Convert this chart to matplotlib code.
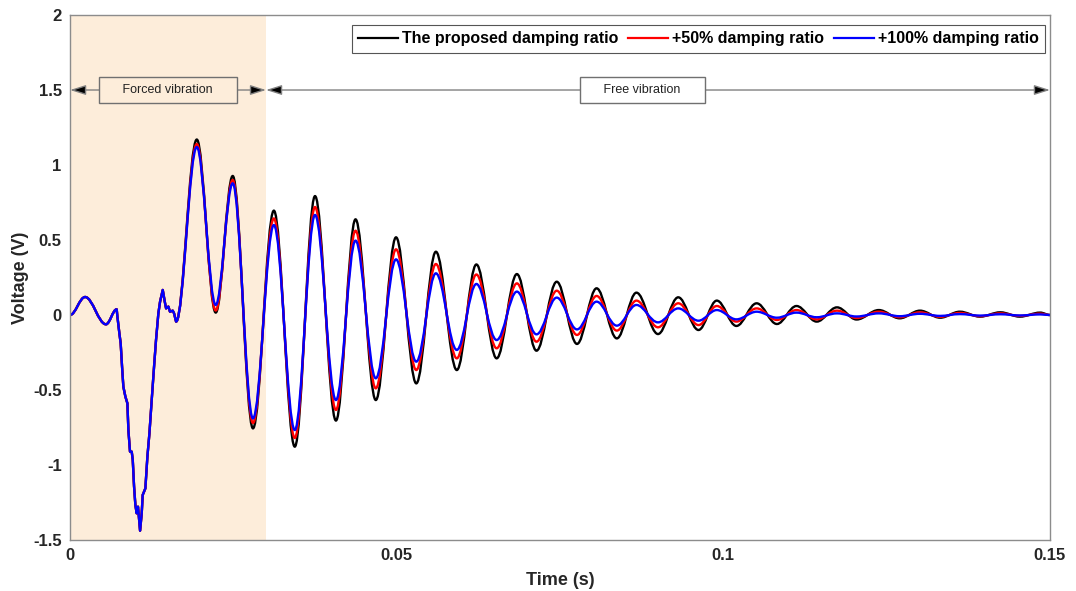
import numpy as np
import matplotlib
matplotlib.use('Agg')
import matplotlib.pyplot as plt
from matplotlib.path import Path
from matplotlib.patches import PathPatch
from matplotlib.lines import Line2D

plt.rcParams['font.family'] = ['Liberation Sans', 'DejaVu Sans']
plt.rcParams['axes.unicode_minus'] = False

# first small swing before the impact (same for all three runs)
start_t = [0.0, 0.0023, 0.0055, 0.00714]
start_v = [0.0, 0.12, -0.062, 0.038]

# impact part, read point by point (noisy, same for all three runs)
hit_t = [0.00725, 0.00755, 0.00775, 0.00796, 0.00816, 0.00847, 0.00878, 0.00893,
         0.00918, 0.00944, 0.0096, 0.0098, 0.0100, 0.0102, 0.0104, 0.01072,
         0.01097, 0.01112, 0.01153, 0.01184, 0.01215, 0.0125, 0.01286, 0.01316,
         0.01352, 0.01378, 0.01419, 0.0145, 0.0147, 0.01505, 0.0153, 0.01572, 0.01592]
hit_v = [-0.011, -0.122, -0.189, -0.344, -0.478, -0.544, -0.589, -0.767,
         -0.911, -0.911, -0.967, -1.144, -1.267, -1.322, -1.278, -1.438,
         -1.322, -1.2, -1.156, -0.944, -0.789, -0.567, -0.344, -0.167,
         0.011, 0.089, 0.167, 0.089, 0.044, 0.056, 0.022, 0.029, 0.011]

# peaks and troughs after the impact (shared times)
ext_t = [0.01623, 0.0194, 0.0223, 0.0249, 0.0280, 0.0312, 0.0344, 0.0375, 0.0407,
         0.0437, 0.0468, 0.0499, 0.0530, 0.0560, 0.0592, 0.0622, 0.0653, 0.0684,
         0.0714, 0.0745, 0.0776, 0.0806, 0.0837, 0.0867, 0.0900, 0.0931, 0.0962,
         0.0990, 0.1020, 0.1051, 0.1082, 0.1112, 0.1143, 0.1174, 0.1204, 0.1238,
         0.1270, 0.1301, 0.1332, 0.1362, 0.1393, 0.1424, 0.1454, 0.1485, 0.15]
black_v = [-0.044, 1.17, 0.016, 0.927, -0.756, 0.696, -0.878, 0.793, -0.704,
           0.638, -0.567, 0.518, -0.456, 0.422, -0.367, 0.337, -0.289, 0.273,
           -0.238, 0.222, -0.193, 0.178, -0.156, 0.149, -0.127, 0.118, -0.100,
           0.096, -0.073, 0.078, -0.060, 0.060, -0.044, 0.051, -0.030, 0.033,
           -0.022, 0.029, -0.018, 0.022, -0.011, 0.018, -0.011, 0.016, 0.0]
red_v = [-0.044, 1.14, 0.03, 0.90, -0.72, 0.644, -0.82, 0.72, -0.633,
         0.562, -0.489, 0.438, -0.367, 0.34, -0.289, 0.27, -0.222, 0.211,
         -0.178, 0.162, -0.133, 0.127, -0.104, 0.096, -0.082, 0.078, -0.067,
         0.060, -0.044, 0.044, -0.033, 0.033, -0.029, 0.029, -0.02, 0.022,
         -0.015, 0.018, -0.012, 0.014, -0.008, 0.011, -0.006, 0.009, 0.0]
blue_v = [-0.044, 1.12, 0.067, 0.878, -0.69, 0.60, -0.767, 0.667, -0.567,
          0.496, -0.422, 0.371, -0.311, 0.278, -0.233, 0.207, -0.167, 0.156,
          -0.129, 0.116, -0.096, 0.089, -0.071, 0.067, -0.049, 0.044, -0.038,
          0.033, -0.029, 0.022, -0.018, 0.016, -0.015, 0.011, -0.01, 0.011,
          -0.008, 0.008, -0.006, 0.006, -0.004, 0.005, -0.003, 0.004, 0.0]

labels = ['The proposed damping ratio', '+50% damping ratio', '+100% damping ratio']
colors = ['black', 'red', 'blue']

K = 1 - 2/np.pi   # bezier handle length giving a sine-like half wave


def curve_through(verts, codes, ts, vs):
    # smooth half waves between successive extrema
    for i in range(1, len(ts)):
        dt = ts[i] - ts[i-1]
        verts += [(ts[i-1] + K*dt, vs[i-1]), (ts[i] - K*dt, vs[i]), (ts[i], vs[i])]
        codes += [Path.CURVE4]*3


def signal_path(vals):
    verts = [(start_t[0], start_v[0])]
    codes = [Path.MOVETO]
    curve_through(verts, codes, start_t, start_v)
    for t, v in zip(hit_t, hit_v):
        verts.append((t, v))
        codes.append(Path.LINETO)
    verts.append((ext_t[0], vals[0]))
    codes.append(Path.LINETO)
    curve_through(verts, codes, ext_t, vals)
    return Path(verts, codes)


fig = plt.figure(figsize=(10.76, 5.91), dpi=100)
ax = fig.add_axes([0.0651, 0.0863, 0.9107, 0.8883])

ax.axvspan(0, 0.03, color='#FDEDDA', lw=0, zorder=0)

for vals, c in zip([black_v, red_v, blue_v], colors):
    ax.add_patch(PathPatch(signal_path(vals), facecolor='none', edgecolor=c,
                           lw=1.7, joinstyle='round', capstyle='round', zorder=2))

# forced / free vibration markers
arr = dict(arrowstyle='<|-|>,head_length=0.95,head_width=0.3', ec='#808080',
           fc='black', lw=1, shrinkA=0, shrinkB=0)
ax.annotate('', xy=(0, 1.5), xytext=(0.03, 1.5), arrowprops=arr, zorder=3)
ax.annotate('', xy=(0.03, 1.5), xytext=(0.15, 1.5), arrowprops=arr, zorder=3)
ax.text(0.015, 1.5, '     Forced vibration     ', ha='center', va='center', fontsize=9,
        color='#222222', zorder=4,
        bbox=dict(boxstyle='square,pad=0.55', fc='#FDEDDA', ec='#707070', lw=1))
ax.text(0.0876, 1.5, '     Free vibration     ', ha='center', va='center', fontsize=9,
        color='#222222', zorder=4,
        bbox=dict(boxstyle='square,pad=0.55', fc='white', ec='#707070', lw=1))

ax.set_xlim(0, 0.15)
ax.set_ylim(-1.5, 2)
ax.set_xticks([0, 0.05, 0.1, 0.15])
ax.set_xticklabels(['0', '0.05', '0.1', '0.15'])
ax.set_yticks([-1.5, -1, -0.5, 0, 0.5, 1, 1.5, 2])
ax.set_yticklabels(['-1.5', '-1', '-0.5', '0', '0.5', '1', '1.5', '2'])
ax.tick_params(length=0, labelsize=12, labelcolor='#262626', pad=6)
for lab in ax.get_xticklabels() + ax.get_yticklabels():
    lab.set_fontweight('bold')
for s in ax.spines.values():
    s.set_color('#8c8c8c')
    s.set_linewidth(1)

ax.set_xlabel('Time (s)', fontsize=13, fontweight='bold', color='#262626', labelpad=6)
ax.set_ylabel('Voltage (V)', fontsize=13, fontweight='bold', color='#262626', labelpad=3)

handles = [Line2D([], [], color=c, lw=1.6) for c in colors]
leg = ax.legend(handles, labels, loc='upper right', bbox_to_anchor=(0.995, 0.981),
                ncol=3, fancybox=False, prop={'weight': 'bold', 'size': 11.5},
                handlelength=2.5, handletextpad=0.25, columnspacing=0.6,
                borderpad=0.4, borderaxespad=0, framealpha=1)
leg.get_frame().set_edgecolor('#555555')
leg.get_frame().set_linewidth(0.8)

fig.savefig('out.png', dpi=100)
